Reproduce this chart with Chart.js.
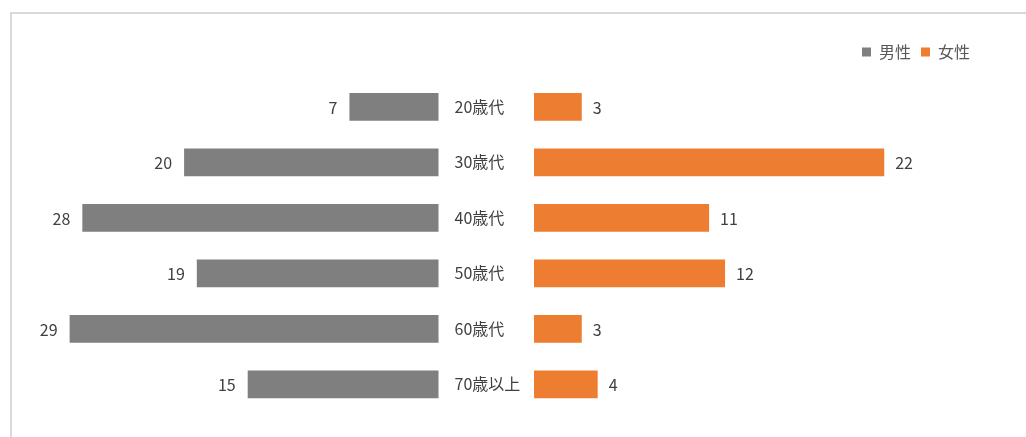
<!DOCTYPE html>
<html>
<head>
<meta charset="utf-8">
<script src="https://cdn.jsdelivr.net/npm/chart.js@4"></script>
<style>
  html, body { margin: 0; padding: 0; background: #fff; overflow: hidden; }
  #wrap { position: relative; width: 1026px; height: 437px; }
  #frame { position: absolute; left: 10px; top: 12px; width: 1100px; height: 500px; border: 2px solid #d9d9d9; box-sizing: border-box; }
  canvas { position: absolute; left: 0; top: 0; }
</style>
</head>
<body>
<div id="wrap">
  <div id="frame"></div>
  <canvas id="myChart" width="1026" height="437"></canvas>
</div>
<script>
const ageGroups = ['20歳代', '30歳代', '40歳代', '50歳代', '60歳代', '70歳以上'];
const maleCounts = [7, 20, 28, 19, 29, 15];
const femaleCounts = [3, 22, 11, 12, 3, 4];
const seriesNames = ['男性', '女性'];
const seriesColors = ['#7f7f7f', '#ed7d31'];

// layout of the two half axes (pixels)
const PAD = { top: 34, right: 46, bottom: 25, left: 20 };
const AREA_LEFT = PAD.left;
const AREA_RIGHT = 1026 - PAD.right;
const AREA_W = AREA_RIGHT - AREA_LEFT;
const MALE_ZERO = 438.5;
const FEMALE_ZERO = 534;
const MALE_PX = 12.72;
const FEMALE_PX = 15.92;

const FONT = '"Noto Sans CJK JP", "Noto Sans", sans-serif';
const TEXT_COLOR = '#404040';

const maleMin = -(AREA_RIGHT - MALE_ZERO) / MALE_PX;
const femaleMin = -(FEMALE_ZERO - AREA_LEFT) / FEMALE_PX;

const labelPlugin = {
  id: 'barLabels',
  afterDatasetsDraw(chart) {
    const ctx = chart.ctx;
    const yScale = chart.scales.y;
    const maleZero = chart.scales.xm.getPixelForValue(0);
    ctx.save();
    ctx.font = `16px ${FONT}`;
    ctx.fillStyle = TEXT_COLOR;
    ctx.textBaseline = 'middle';

    ctx.textAlign = 'right';
    chart.getDatasetMeta(0).data.forEach((bar, i) => {
      ctx.fillText(String(maleCounts[i]), bar.x - 12, bar.y + 1);
    });
    ctx.textAlign = 'left';
    chart.getDatasetMeta(1).data.forEach((bar, i) => {
      ctx.fillText(String(femaleCounts[i]), bar.x + 11, bar.y + 1);
    });
    ageGroups.forEach((group, i) => {
      ctx.fillText(group, maleZero + 16, yScale.getPixelForValue(i));
    });
    ctx.restore();
  },
};

const ctx = document.getElementById('myChart').getContext('2d');
const myChart = new Chart(ctx, {
  type: 'bar',
  data: {
    labels: ageGroups,
    datasets: [
      {
        label: seriesNames[0],
        data: maleCounts,
        backgroundColor: seriesColors[0],
        xAxisID: 'xm',
        grouped: false,
      },
      {
        label: seriesNames[1],
        data: femaleCounts,
        backgroundColor: seriesColors[1],
        xAxisID: 'xf',
        grouped: false,
      },
    ],
  },
  options: {
    indexAxis: 'y',
    responsive: false,
    animation: false,
    devicePixelRatio: 1,
    categoryPercentage: 0.5,
    barPercentage: 1.0,
    layout: { padding: PAD },
    scales: {
      y: { display: false },
      xm: {
        type: 'linear',
        display: false,
        reverse: true,
        min: maleMin,
        max: maleMin + AREA_W / MALE_PX,
      },
      xf: {
        type: 'linear',
        position: 'top',
        min: femaleMin,
        max: femaleMin + AREA_W / FEMALE_PX,
        grid: { display: false },
        border: { display: false },
        ticks: { display: false },
        afterFit: (scale) => { scale.height = 9; },
      },
    },
    plugins: {
      tooltip: { enabled: false },
      legend: {
        position: 'top',
        align: 'end',
        labels: {
          boxWidth: 9,
          boxHeight: 9,
          padding: 10,
          color: '#595959',
          font: { size: 16, family: FONT },
        },
      },
    },
  },
  plugins: [labelPlugin],
});
</script>
</body>
</html>
